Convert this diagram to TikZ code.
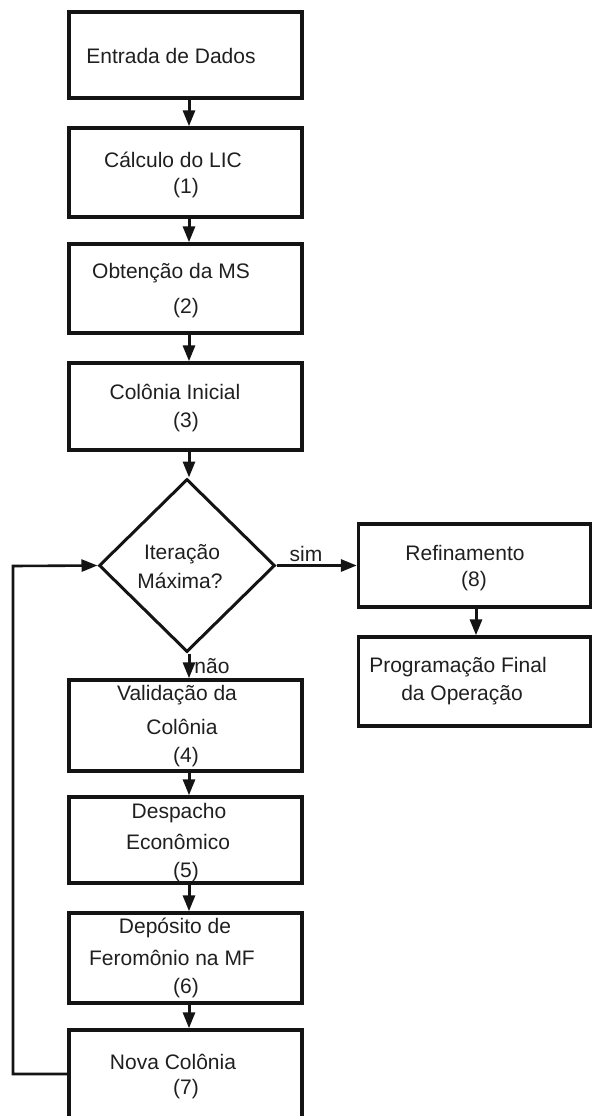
\documentclass[tikz,border=0pt]{standalone}
\usepackage{fontspec}
\setmainfont{Liberation Sans}
\usetikzlibrary{arrows.meta,shapes.geometric}
\begin{document}
\begin{tikzpicture}[x=1pt,y=-1pt,
  box/.style={draw=black!92,line width=3.4pt,rectangle,inner sep=0pt},
  dia/.style={draw=black!92,line width=3pt,diamond,inner sep=0pt,minimum width=176pt,minimum height=173pt},
  lbl/.style={font=\fontsize{21}{24}\selectfont,text=black!88,inner sep=0pt},
  arr/.style={line width=3pt,draw=black!92,-{Triangle[length=16pt,width=12pt]}},
  ln/.style={line width=3pt,draw=black!92}]
\useasboundingbox (0,0) rectangle (592,1116);
% boxes
\node[box,minimum width=233pt,minimum height=86pt] (b0) at (185.5,55) {};
\node[box,minimum width=233pt,minimum height=89pt] (b1) at (185.5,172.5) {};
\node[box,minimum width=233pt,minimum height=89pt] (b2) at (185.5,288.5) {};
\node[box,minimum width=233pt,minimum height=87pt] (b3) at (185.5,406.5) {};
\node[dia] (d) at (187,565.5) {};
\node[box,minimum width=233pt,minimum height=91pt] (b4) at (185.5,725.5) {};
\node[box,minimum width=233pt,minimum height=86pt] (b5) at (185.5,840) {};
\node[box,minimum width=233pt,minimum height=90pt] (b6) at (185.5,958) {};
\node[box,minimum width=233pt,minimum height=100pt] (b7) at (185.5,1080) {};
\node[box,minimum width=232pt,minimum height=83pt] (b8) at (474.5,565.5) {};
\node[box,minimum width=232pt,minimum height=89pt] (b9) at (474.5,681.5) {};
% texts
\node[lbl] (t0) at (171,56) {Entrada de Dados};
\node[lbl] (t1a) at (173,160) {Cálculo do LIC};
\node[lbl] (t1b) at (186,188) {(1)};
\node[lbl] (t2a) at (171,273) {Obtenção da MS};
\node[lbl] (t2b) at (186,308) {(2)};
\node[lbl] (t3a) at (175,392) {Colônia Inicial};
\node[lbl] (t3b) at (186,422) {(3)};
\node[lbl] (tda) at (182,554) {Iteração};
\node[lbl] (tdb) at (180,581) {Máxima?};
\node[lbl] (t4a) at (177,695) {Validação da};
\node[lbl] (t4b) at (182,727) {Colônia};
\node[lbl] (t4c) at (186,757) {(4)};
\node[lbl] (t5a) at (179,813) {Despacho};
\node[lbl] (t5b) at (178,842) {Econômico};
\node[lbl] (t5c) at (186,872) {(5)};
\node[lbl] (t6a) at (175,928) {Depósito de};
\node[lbl] (t6b) at (172,958) {Feromônio na MF};
\node[lbl] (t6c) at (186,988) {(6)};
\node[lbl] (t7a) at (173,1062) {Nova Colônia};
\node[lbl] (t7b) at (186,1089) {(7)};
\node[lbl] (t8a) at (465,553) {Refinamento};
\node[lbl] (t8b) at (474,581) {(8)};
\node[lbl] (t9a) at (458,667) {Programação Final};
\node[lbl] (t9b) at (462,695) {da Operação};
\node[lbl] (sim) at (306,554) {sim};
\node[lbl] (nao) at (212,666) {não};
% connectors
\draw[arr] (b0.south -| 189,0) -- (b1.north -| 189,0);
\draw[arr] (b1.south -| 189,0) -- (b2.north -| 189,0);
\draw[arr] (b2.south -| 189,0) -- (b3.north -| 189,0);
\draw[arr] (b3.south -| 189,0) -- (d.north -| 189,0);
\draw[arr] (d.south -| 189,0) -- (b4.north -| 189,0);
\draw[arr] (b4.south -| 189,0) -- (b5.north -| 189,0);
\draw[arr] (b5.south -| 189,0) -- (b6.north -| 189,0);
\draw[arr] (b6.south -| 189,0) -- (b7.north -| 189,0);
\draw[arr] (d.east) -- (b8.west);
\draw[arr] (b8.south -| 476,0) -- (b9.north -| 476,0);
\coordinate (fb1) at (13,1074);
\coordinate (fb2) at (13,566);
\draw[arr,line width=2.6pt] (b7.west |- fb1) -- (fb1) -- (fb2) -- (d.west);
\end{tikzpicture}
\end{document}
